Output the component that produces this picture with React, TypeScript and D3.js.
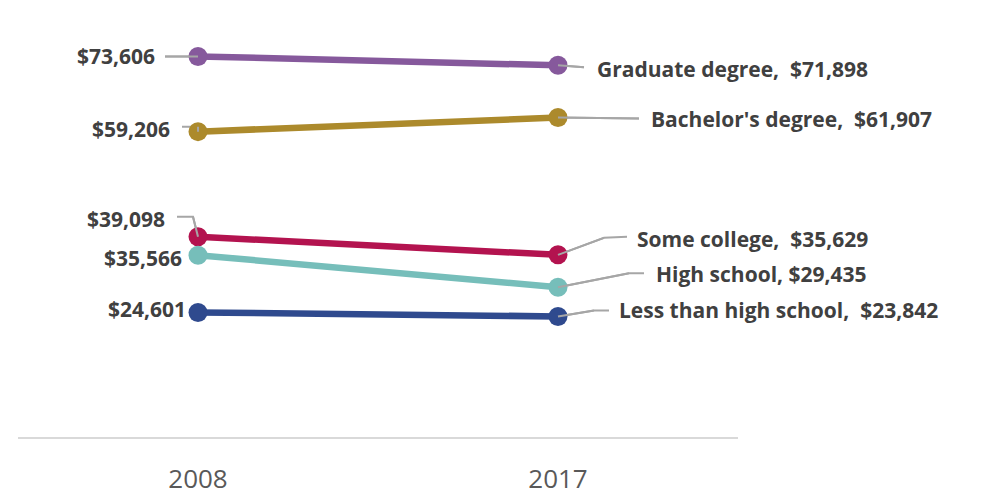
import React from "react";
import * as d3 from "d3";

const years = ["2008", "2017"];
const categories = ["Graduate degree", "Bachelor's degree", "Some college", "High school", "Less than high school"];
const values2008 = [73606, 59206, 39098, 35566, 24601];
const values2017 = [71898, 61907, 35629, 29435, 23842];
const colors = ["#86599C", "#AC8A2C", "#B3134F", "#76BEBA", "#2F4A8E"];

// label layout (offsets relative to points, in px)
const leftLayout = [
  { tx: -43, ty: 0, path: [[-33, 0], [0, 0]] },
  { tx: -28, ty: -2, path: [[-16, -5], [0, -5], [0, 0]] },
  { tx: -33, ty: -17, path: [[-21, -20], [-5, -20], [0, 0]] },
  { tx: -16, ty: 3, path: [] },
  { tx: -12, ty: -3, path: [] },
];
const rightLayout = [
  { tx: 39, ty: 4, path: [[0, 0], [26, 2]] },
  { tx: 93, ty: 2, path: [[0, 0], [81, 1]] },
  { tx: 79, ty: -15, path: [[0, 0], [46, -17], [69, -18]] },
  { tx: 98, ty: -13, path: [[0, 0], [71, -14], [86, -14]] },
  { tx: 61, ty: -6, path: [[0, 0], [36, -6], [51, -6]] },
];

const fmt = d3.format("$,");

export default function App() {
  const W = 1000, H = 496;
  const x = d3.scaleBand().domain(years).range([18, 738]);
  const y = d3.scaleLinear().domain([0, 80000]).range([441, 23]);
  const cx = (yr: string) => (x(yr) as number) + x.bandwidth() / 2;
  const line = d3.line<[number, number]>().x(d => d[0]).y(d => d[1]);
  const font = "'Open Sans', sans-serif";
  return (
    <svg width={W} height={H} style={{ position: "absolute", left: 0, top: 0, background: "#fff" }}>
      <line x1={18} x2={738} y1={438} y2={438} stroke="#D9D9D9" strokeWidth={2} />
      {years.map(yr => (
        <text key={yr} x={cx(yr)} y={488} textAnchor="middle" fontFamily={font} fontSize={26} fill="#595959">{yr}</text>
      ))}
      {categories.map((c, i) => {
        const p0: [number, number] = [cx(years[0]), y(values2008[i])];
        const p1: [number, number] = [cx(years[1]), y(values2017[i])];
        const L = leftLayout[i], R = rightLayout[i];
        return (
          <g key={c}>
            {L.path.length > 0 && (
              <path d={line(L.path.map(q => [p0[0] + q[0], p0[1] + q[1]] as [number, number])) as string} fill="none" stroke="#A6A6A6" strokeWidth={2} />
            )}
            <path d={line(R.path.map(q => [p1[0] + q[0], p1[1] + q[1]] as [number, number])) as string} fill="none" stroke="#A6A6A6" strokeWidth={2} />
            <path d={line([p0, p1]) as string} stroke={colors[i]} strokeWidth={6.5} fill="none" />
            <circle cx={p0[0]} cy={p0[1]} r={9.5} fill={colors[i]} />
            <circle cx={p1[0]} cy={p1[1]} r={9.5} fill={colors[i]} />
            {L.path.length > 0 && (
              <path d={line(L.path.slice(-2).map(q => [p0[0] + q[0], p0[1] + q[1]] as [number, number])) as string} fill="none" stroke="#A6A6A6" strokeWidth={2} />
            )}
            <path d={line(R.path.slice(0, 2).map(q => [p1[0] + q[0], p1[1] + q[1]] as [number, number])) as string} fill="none" stroke="#A6A6A6" strokeWidth={2} />
            <text x={p0[0] + L.tx} y={p0[1] + L.ty} dy="0.35em" textAnchor="end" fontFamily={font} fontWeight={700} fontSize={21} fill="#404040">{fmt(values2008[i])}</text>
            <text x={p1[0] + R.tx} y={p1[1] + R.ty} dy="0.35em" textAnchor="start" fontFamily={font} fontWeight={700} fontSize={21} fill="#404040" style={{ whiteSpace: "pre" }}>
              {c + (i === 3 ? ", " : ",  ") + fmt(values2017[i])}
            </text>
          </g>
        );
      })}
    </svg>
  );
}
